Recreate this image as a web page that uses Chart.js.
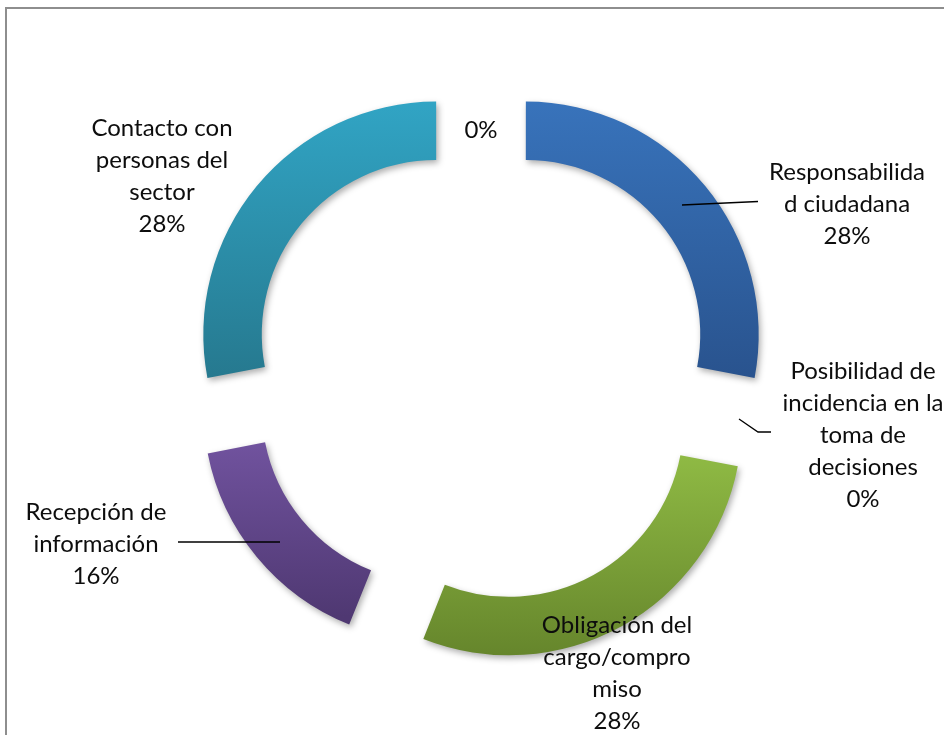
<!DOCTYPE html>
<html>
<head>
<meta charset="utf-8">
<script src="https://cdn.jsdelivr.net/npm/chart.js@4.4.1/dist/chart.umd.min.js"></script>
<style>
  html, body { margin: 0; padding: 0; background: #fff; overflow: hidden; }
  #wrap { position: relative; width: 944px; height: 735px; }
  #frame { position: absolute; left: 5px; top: 7px; width: 980px; height: 780px; border: 2px solid #8e8e8e; }
  #chart { position: absolute; left: 0; top: 0; }
</style>
</head>
<body>
<div id="wrap">
  <div id="frame"></div>
  <canvas id="chart" width="944" height="735"></canvas>
</div>
<script>
const CATEGORIES = [
  'Responsabilidad ciudadana',
  'Posibilidad de incidencia en la toma de decisiones',
  'Obligación del cargo/compromiso',
  'Recepción de información',
  'Contacto con personas del sector',
  ''
];
const VALUES = [28, 0, 28, 16, 28, 0];

// category text as it wraps inside each label box
const LABEL_LINES = [
  ['Responsabilida', 'd ciudadana'],
  ['Posibilidad de', 'incidencia en la', 'toma de', 'decisiones'],
  ['Obligación del', 'cargo/compro', 'miso'],
  ['Recepción de', 'información'],
  ['Contacto con', 'personas del', 'sector'],
  []
];

const TOP_COLORS = ['#3873bb', '#ffffff', '#8fba44', '#71539f', '#31a4c4', '#ffffff'];
const BOTTOM_COLORS = ['#29538e', '#ffffff', '#66862c', '#4f3872', '#26798f', '#ffffff'];

// label box anchors (first line) and leader lines, relative to the ring centre
const LABEL_POS = [[366, -200.5], [382, -1.5], [136, 252.5], [-385, 139.5], [-319, -244], [0, -242.5]];
const LEADERS = [
  [[201, -166.5], [277, -170]],
  [[258, 47.5], [277, 60.5], [290, 60.5]],
  null,
  [[-303, 170.5], [-201, 170.5]],
  null,
  null
];

const FONT_SIZE = 24;
const LINE_H = 32;
const EXPLODE = 58;

// Chart.js grows the radius of short exploded arcs; keep every arc on the same ring
// and give each one its own top-to-bottom shading
const ringShade = {
  id: 'ringShade',
  afterDatasetsUpdate(chart) {
    const ctx = chart.ctx;
    chart.getDatasetMeta(0).data.forEach((arc, i) => {
      const shift = (arc.options.offset || 0) / 4;
      const grow = shift * (1 - Math.sin(Math.min(Math.PI, arc.circumference || 0)));
      arc.outerRadius -= grow;
      arc.innerRadius -= grow;
      let top = Infinity, bottom = -Infinity;
      for (let k = 0; k <= 60; k++) {
        const a = arc.startAngle + (arc.endAngle - arc.startAngle) * k / 60;
        for (const r of [arc.innerRadius, arc.outerRadius]) {
          const y = arc.y + Math.sin(a) * r;
          top = Math.min(top, y);
          bottom = Math.max(bottom, y);
        }
      }
      if (bottom > top) {
        const g = ctx.createLinearGradient(0, top, 0, bottom);
        g.addColorStop(0, TOP_COLORS[i]);
        g.addColorStop(1, BOTTOM_COLORS[i]);
        arc.options.backgroundColor = g;
      }
    });
  },
  beforeDatasetsDraw(chart) {
    const c = chart.ctx;
    c.save();
    c.shadowColor = 'rgba(0,0,0,0.32)';
    c.shadowBlur = 6;
    c.shadowOffsetX = 2;
    c.shadowOffsetY = 3;
  },
  afterDatasetsDraw(chart) {
    chart.ctx.restore();
  }
};

const sliceLabels = {
  id: 'sliceLabels',
  afterDraw(chart) {
    const c = chart.ctx;
    const arc0 = chart.getDatasetMeta(0).data[0];
    const cx = arc0.x, cy = arc0.y;
    const total = VALUES.reduce((s, v) => s + v, 0);
    c.save();
    c.strokeStyle = '#000';
    c.lineWidth = 1.3;
    LEADERS.forEach(pts => {
      if (!pts) return;
      c.beginPath();
      pts.forEach(([dx, dy], k) => k ? c.lineTo(cx + dx, cy + dy) : c.moveTo(cx + dx, cy + dy));
      c.stroke();
    });
    c.fillStyle = '#0d0d0d';
    c.font = `${FONT_SIZE}px Lato`;
    c.textAlign = 'center';
    c.textBaseline = 'alphabetic';
    const capMid = FONT_SIZE * 0.36;
    LABEL_LINES.forEach((lines, i) => {
      const text = lines.concat([Math.round(VALUES[i] / total * 100) + '%']);
      const [dx, dy] = LABEL_POS[i];
      text.forEach((t, k) => c.fillText(t, cx + dx, cy + dy + k * LINE_H + capMid));
    });
    c.restore();
  }
};

new Chart(document.getElementById('chart'), {
  type: 'doughnut',
  data: {
    labels: CATEGORIES,
    datasets: [{
      data: VALUES,
      backgroundColor: TOP_COLORS,
      borderWidth: 0,
      offset: EXPLODE * 4
    }]
  },
  options: {
    responsive: false,
    animation: false,
    events: [],
    radius: 233,
    cutout: '74.9%',
    layout: { padding: { left: 18, top: 8 } },
    plugins: {
      legend: { display: false },
      tooltip: { enabled: false }
    }
  },
  plugins: [ringShade, sliceLabels]
});
</script>
</body>
</html>
